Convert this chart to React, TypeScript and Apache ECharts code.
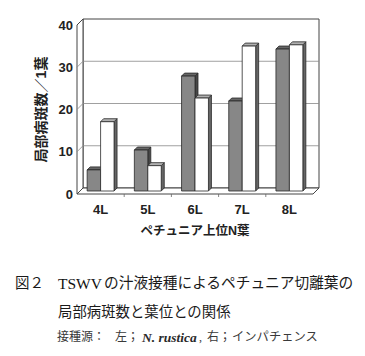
import React, { useEffect, useRef } from "react";
import * as echarts from "echarts";

const categories = ["4L", "5L", "6L", "7L", "8L"];
const rusticaValues = [5, 9.7, 27.2, 21.3, 33.6];
const impatiensValues = [16.4, 6, 22, 34.3, 34.6];
const yTicks = [0, 10, 20, 30, 40];
const yMax = 40;

const xTitle = "ペチュニア上位N葉";
const yTitle = "局部病斑数／1葉";

const DX = 6;
const DY = -6;
const BAR_DEPTH = 3;
const BAR_BASE_SHIFT = -3;

const SANS = '"Liberation Sans", Arial, "Noto Sans CJK JP", sans-serif';
const SERIF = '"Liberation Serif", "Times New Roman", "Noto Sans CJK JP", serif';

function frameRender(params: any, api: any) {
  const band = api.size([1, 0])[0];
  const p0 = api.coord([0, 0]);
  const pN = api.coord([categories.length - 1, yMax]);
  const L = p0[0] - band / 2;
  const B = p0[1];
  const R = pN[0] + band / 2;
  const T = pN[1];
  const stroke = { stroke: "#444", lineWidth: 1, fill: "#fff" };
  const children: any[] = [];
  children.push({
    type: "polygon",
    shape: { points: [[L + DX, T + DY], [R + DX, T + DY], [R + DX, B + DY], [L + DX, B + DY]] },
    style: stroke,
  });
  children.push({
    type: "polygon",
    shape: { points: [[L, T], [L + DX, T + DY], [L + DX, B + DY], [L, B]] },
    style: stroke,
  });
  yTicks.forEach((t) => {
    if (t === 0 || t === yMax) return;
    const y = api.coord([0, t])[1];
    children.push({
      type: "polyline",
      shape: { points: [[L, y], [L + DX, y + DY], [R + DX, y + DY]] },
      style: { stroke: "#888", lineWidth: 0.8, fill: "none" },
    });
  });
  children.push({
    type: "polygon",
    shape: { points: [[L, B], [R, B], [R + DX, B + DY], [L + DX, B + DY]] },
    style: stroke,
  });
  for (let i = 1; i < categories.length; i++) {
    const x = L + i * band;
    children.push({
      type: "line",
      shape: { x1: x, y1: B, x2: x, y2: B + 3 },
      style: { stroke: "#666", lineWidth: 0.8 },
    });
  }
  return { type: "group", children };
}

function makeBarRender(side: number, front: string, top: string, sideColor: string) {
  return (params: any, api: any) => {
    const i = api.value(0);
    const v = api.value(1);
    const band = api.size([1, 0])[0];
    const w = band * 0.285;
    const base = api.coord([i, 0]);
    const tp = api.coord([i, v]);
    const cx = base[0];
    const x0 = side < 0 ? cx - w : cx;
    const x1 = side < 0 ? cx : cx + w;
    const yb = base[1] + BAR_BASE_SHIFT;
    const yt = tp[1] + BAR_BASE_SHIFT;
    const d = BAR_DEPTH;
    const line = { stroke: "#2a2a2a", lineWidth: 0.8 };
    return {
      type: "group",
      children: [
        {
          type: "polygon",
          shape: { points: [[x1, yt], [x1 + d, yt - d], [x1 + d, yb - d], [x1, yb]] },
          style: { fill: sideColor, ...line },
        },
        {
          type: "polygon",
          shape: { points: [[x0, yt], [x1, yt], [x1 + d, yt - d], [x0 + d, yt - d]] },
          style: { fill: top, ...line },
        },
        {
          type: "rect",
          shape: { x: x0, y: yt, width: x1 - x0, height: yb - yt },
          style: { fill: front, ...line },
        },
      ],
    };
  };
}

export default function App() {
  const ref = useRef<HTMLDivElement>(null);
  useEffect(() => {
    if (!ref.current) return;
    const chart = echarts.init(ref.current, undefined, { renderer: "svg" });
    chart.setOption({
      animation: false,
      backgroundColor: "#fff",
      grid: { left: 77, top: 25, width: 236, height: 169 },
      xAxis: {
        type: "category",
        data: categories,
        axisLine: { show: false },
        axisTick: { show: false },
        splitLine: { show: false },
        axisLabel: { fontSize: 13, fontWeight: "bold", color: "#222", margin: 9, fontFamily: SANS },
        name: xTitle,
        nameLocation: "middle",
        nameGap: 31,
        nameTextStyle: { fontSize: 12.5, fontWeight: "bold", color: "#222", fontFamily: SANS },
      },
      yAxis: {
        type: "value",
        min: 0,
        max: yMax,
        interval: 10,
        axisLine: { show: false },
        axisTick: { show: false },
        splitLine: { show: false },
        axisLabel: { fontSize: 13, fontWeight: "bold", color: "#222", margin: 4, padding: [6, 0, 0, 0], fontFamily: SANS },
        name: yTitle,
        nameLocation: "middle",
        nameRotate: 90,
        nameGap: 28,
        nameTextStyle: { fontSize: 14, fontWeight: "bold", color: "#222", fontFamily: SANS },
      },
      series: [
        {
          type: "custom",
          name: "frame",
          data: [[0, 0]],
          renderItem: frameRender,
          clip: false,
          silent: true,
          z: 1,
        },
        {
          type: "custom",
          name: "N. rustica",
          data: rusticaValues.map((v, i) => [i, v]),
          encode: { x: 0, y: 1 },
          renderItem: makeBarRender(-1, "#878787", "#666666", "#484848"),
          clip: false,
          z: 2,
        },
        {
          type: "custom",
          name: "インパチェンス",
          data: impatiensValues.map((v, i) => [i, v]),
          encode: { x: 0, y: 1 },
          renderItem: makeBarRender(1, "#ffffff", "#b0b0b0", "#666666"),
          clip: false,
          z: 3,
        },
      ],
      graphic: [
        { type: "text", x: 15, y: 283, style: { text: "図２", fontSize: 14.5, fontFamily: SERIF, fill: "#1a1a1a", verticalAlign: "middle" } },
        { type: "text", x: 58, y: 283, style: { text: "TSWV", fontSize: 15.5, fontFamily: SERIF, fill: "#111", verticalAlign: "middle" } },
        { type: "text", x: 104, y: 283, style: { text: "の汁液接種によるペチュニア切離葉の", fontSize: 14.7, fontFamily: SERIF, fill: "#1a1a1a", verticalAlign: "middle" } },
        { type: "text", x: 58, y: 312, style: { text: "局部病斑数と葉位との関係", fontSize: 14.4, fontFamily: SERIF, fill: "#1a1a1a", verticalAlign: "middle" } },
        { type: "text", x: 57, y: 337, style: { text: "接種源：", fontSize: 12, fontFamily: SERIF, fill: "#3a3a3a", verticalAlign: "middle" } },
        { type: "text", x: 115, y: 337, style: { text: "左；", fontSize: 12, fontFamily: SERIF, fill: "#3a3a3a", verticalAlign: "middle" } },
        { type: "text", x: 142, y: 337, style: { text: "N. rustica", fontSize: 13.5, fontStyle: "italic", fontWeight: "bold", fontFamily: SERIF, fill: "#2a2a2a", verticalAlign: "middle" } },
        { type: "text", x: 199, y: 337, style: { text: ",", fontSize: 12, fontFamily: SERIF, fill: "#3a3a3a", verticalAlign: "middle" } },
        { type: "text", x: 207, y: 337, style: { text: "右；", fontSize: 12, fontFamily: SERIF, fill: "#3a3a3a", verticalAlign: "middle" } },
        { type: "text", x: 232, y: 337, style: { text: "インパチェンス", fontSize: 12.3, fontFamily: SERIF, fill: "#3a3a3a", verticalAlign: "middle" } },
      ],
    });
    return () => chart.dispose();
  }, []);
  return (
    <div
      ref={ref}
      style={{ position: "fixed", left: 0, top: 0, width: 365, height: 356 }}
    />
  );
}
